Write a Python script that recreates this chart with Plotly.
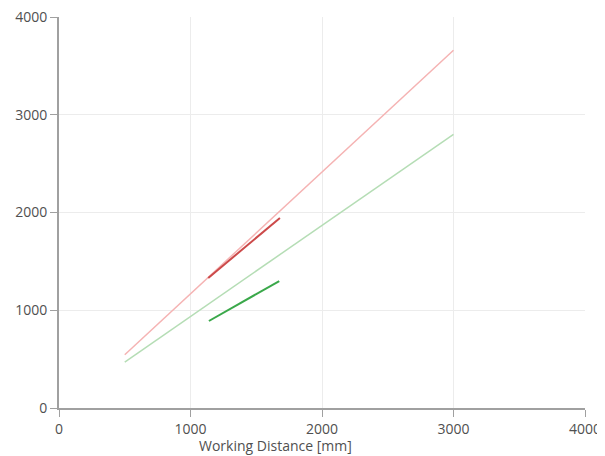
import plotly.graph_objects as go

# Data
light_red_x = [500, 3000]
light_red_y = [545, 3660]
light_green_x = [500, 3000]
light_green_y = [470, 2800]
dark_red_x = [1135, 1680]
dark_red_y = [1330, 1944]
dark_green_x = [1140, 1675]
dark_green_y = [890, 1299]
tick_vals = [0, 1000, 2000, 3000, 4000]
x_title = "Working Distance [mm]"

fig = go.Figure()
fig.add_trace(go.Scatter(x=light_red_x, y=light_red_y, mode="lines",
                         line=dict(color="#f5b3b3", width=1.5), showlegend=False))
fig.add_trace(go.Scatter(x=light_green_x, y=light_green_y, mode="lines",
                         line=dict(color="#b5ddb5", width=1.5), showlegend=False))
fig.add_trace(go.Scatter(x=dark_red_x, y=dark_red_y, mode="lines",
                         line=dict(color="#cc4a4a", width=2), showlegend=False))
fig.add_trace(go.Scatter(x=dark_green_x, y=dark_green_y, mode="lines",
                         line=dict(color="#3aa84a", width=2), showlegend=False))

tfont = dict(family="Open Sans", size=14, color="#505050")
axis_common = dict(
    range=[0, 4000], tickvals=tick_vals, ticktext=[str(v) for v in tick_vals],
    showgrid=True, gridcolor="#ececec", gridwidth=1,
    showline=True, linecolor="#a0a0a0", linewidth=2,
    ticks="outside", ticklen=7, tickcolor="#a0a0a0", tickwidth=1,
    zeroline=False, tickfont=tfont, automargin=False,
    ticklabeloverflow="allow",
)

# The page body adds an 8px offset; margins compensate so the plot area
# lands at x 59..585, y 17..408 in the window.
fig.update_layout(
    width=605, height=456,
    margin=dict(l=51, r=28, t=9, b=56),
    paper_bgcolor="white", plot_bgcolor="white",
    xaxis=dict(**axis_common),
    yaxis=dict(**axis_common),
    annotations=[dict(text=x_title, xref="paper", yref="paper", x=0.411, y=-0.097,
                      xanchor="center", yanchor="middle", showarrow=False, font=tfont)],
)
fig.write_html("out.html")
